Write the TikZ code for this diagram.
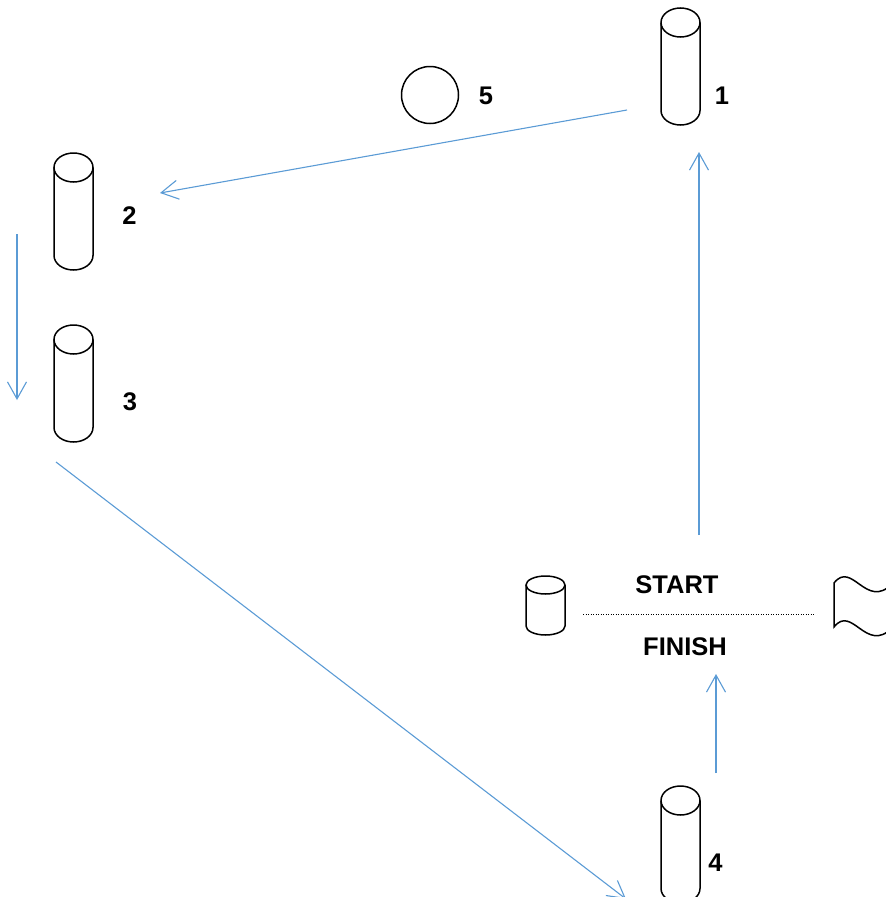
\documentclass[tikz,border=0pt]{standalone}
\usepackage{fontspec}
\setmainfont{Liberation Sans}
\usetikzlibrary{arrows.meta}
\definecolor{routeblue}{RGB}{91,155,213}
\begin{document}
\begin{tikzpicture}[x=1pt, y=-1pt,
    every node/.style={font=\fontsize{25.5}{30}\selectfont\bfseries, inner sep=0pt},
    route/.style={draw=routeblue, line width=1.1pt, -{Straight Barb[length=17pt,width=19pt]}},
    post/.style={line width=1.5pt}]
            \useasboundingbox (0,0) rectangle (886,897);
            \clip (0,0) rectangle (886,897);
            % posts and the start marker
            \foreach \x/\y/\r/\h in 
            {680.5/22.5/14.5/88,73.5/167.5/14.5/88,73.5/339.5/14.5/88,680.5/800.5/14.5/88,545.5/585/9/41}
            {\draw[post,shift={(\x,\y)}] (0,0) ellipse [x radius=19.5pt,y radius=\r pt];
            \draw[post,shift={(\x,\y)}] (-19.5,0) -- (-19.5,\h) 
            arc [start angle=180,end angle=360,x radius=19.5pt,y radius=\r pt] -- (19.5,0);}
            \draw[post] (430,95) circle [radius=28.5pt];%
            % flag
            \draw[post] (892,584) .. controls (866,610) and (852,560) .. (834,583) 
            -- (834,627) .. controls (852,604) and (866,654) .. (892,628);%
            \node (lbl1) at (722,95.5) {1};%
            \node (lbl2) at (129.5,216) {2};%
            \node (lbl3) at (130,401.5) {3};%
            \node (lbl4) at (715.5,863) {4};%
            \node (lbl5) at (486,96) {5};%
            \node (start) at (677,585) {START};%
            \node (finish) at (685,647) {FINISH};%
            % route
            \coordinate (from1) at (627,110);
            \coordinate (to2) at (160,193);
            \coordinate (from2) at (17,234);
            \coordinate (to3) at (17,400);
            \coordinate (from3) at (56,462);
            \coordinate (to4) at (626,899);
            \coordinate (from4) at (716,773);
            \coordinate (tofinish) at (716,674);
            \coordinate (fromstart) at (699,535);
            \coordinate (to1) at (699,152);
            \coordinate (lineL) at (583,614);
            \coordinate (lineR) at (815,614);
            \draw[route] (from1) -- (to2);
            \draw[route] (from2) -- (to3);
            \draw[route] (from3) -- (to4);
            \draw[route] (from4) -- (tofinish);
            \draw[route] (fromstart) -- (to1);
            \draw[line width=1pt, dash pattern=on 1.2pt off 1.3pt] (lineL) -- (lineR);
        \end{tikzpicture}
\end{document}
